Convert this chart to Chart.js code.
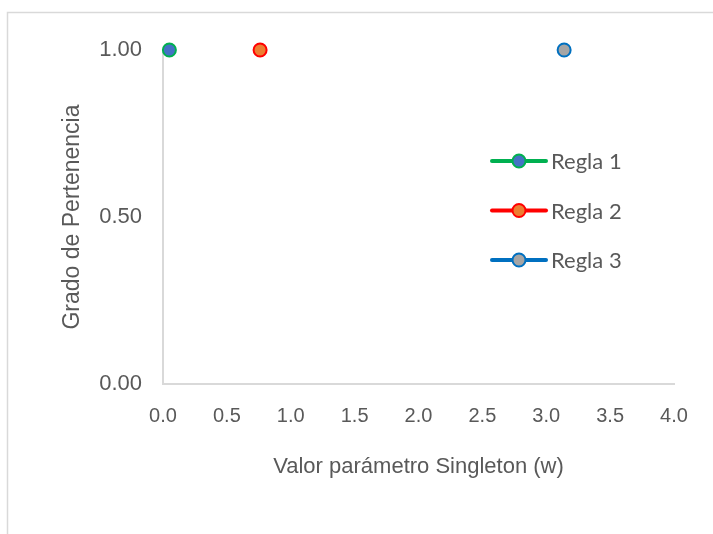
<!DOCTYPE html>
<html>
<head>
<meta charset="utf-8">
<script src="https://cdn.jsdelivr.net/npm/chart.js@4"></script>
<style>
  html, body { margin: 0; padding: 0; background: #ffffff; }
  #wrap { width: 713px; height: 534px; position: relative; }
</style>
</head>
<body>
<div id="wrap"><canvas id="c" width="713" height="534"></canvas></div>
<script>
// Singleton output values, one per rule
const seriesNames = ['Regla 1', 'Regla 2', 'Regla 3'];
const singletonW = [0.05, 0.76, 3.14];
const membership = [1.00, 1.00, 1.00];
const lineColors = ['#00B050', '#FF0000', '#0070C0'];
const markerFills = ['#4472C4', '#ED7D31', '#A5A5A5'];
const xTitle = 'Valor parámetro Singleton (w)';
const yTitle = 'Grado de Pertenencia';

const textGray = '#595959';
const axisGray = '#D9D9D9';

const datasets = seriesNames.map((name, i) => ({
  label: name,
  data: [{ x: singletonW[i], y: membership[i] }],
  borderColor: lineColors[i],
  backgroundColor: markerFills[i],
  pointBackgroundColor: markerFills[i],
  pointBorderColor: lineColors[i],
  pointBorderWidth: 2,
  pointRadius: 6.5,
  pointHoverRadius: 6.5,
  showLine: true,
  borderWidth: 4,
  clip: false
}));

// Frame around the whole chart
const framePlugin = {
  id: 'frame',
  beforeDraw(chart) {
    const ctx = chart.ctx;
    ctx.save();
    ctx.strokeStyle = axisGray;
    ctx.lineWidth = 1.5;
    ctx.strokeRect(7.5, 12.5, chart.width + 20, chart.height + 20);
    ctx.restore();
  }
};

// Legend drawn inside the plot area, line + marker + label per series
const insideLegend = {
  id: 'insideLegend',
  afterDatasetsDraw(chart) {
    const ctx = chart.ctx;
    const ca = chart.chartArea;
    const x0 = ca.left + 329, x1 = ca.left + 383, xm = ca.left + 356;
    const yStart = ca.top + 111, gap = 49.5;
    ctx.save();
    chart.data.datasets.forEach((ds, i) => {
      const y = yStart + i * gap;
      ctx.strokeStyle = ds.borderColor;
      ctx.lineWidth = 4;
      ctx.lineCap = 'round';
      ctx.beginPath();
      ctx.moveTo(x0, y);
      ctx.lineTo(x1, y);
      ctx.stroke();
      ctx.beginPath();
      ctx.arc(xm, y, 6.5, 0, Math.PI * 2);
      ctx.fillStyle = ds.pointBackgroundColor;
      ctx.fill();
      ctx.lineWidth = 2;
      ctx.stroke();
      ctx.fillStyle = textGray;
      ctx.font = '22px Lato';
      ctx.textAlign = 'left';
      ctx.textBaseline = 'middle';
      ctx.fillText(ds.label, x1 + 5, y + 1);
    });
    ctx.restore();
  }
};

new Chart(document.getElementById('c'), {
  type: 'scatter',
  data: { datasets },
  plugins: [framePlugin, insideLegend],
  options: {
    responsive: false,
    animation: false,
    layout: { padding: { left: 40, right: 39, top: 50, bottom: 40 } },
    plugins: {
      legend: { display: false },
      tooltip: { enabled: false }
    },
    scales: {
      x: {
        type: 'linear',
        min: 0,
        max: 4,
        afterFit(scale) { scale.height = 110; },
        grid: { display: false, drawTicks: false },
        border: { display: true, color: axisGray, width: 2 },
        ticks: {
          stepSize: 0.5,
          padding: 20,
          color: textGray,
          font: { family: 'Liberation Sans', size: 20 },
          callback: v => Number(v).toFixed(1)
        },
        title: {
          display: true,
          text: xTitle,
          color: textGray,
          font: { family: 'Liberation Sans', size: 22 },
          padding: { top: 0, bottom: 14 }
        }
      },
      y: {
        type: 'linear',
        min: 0,
        max: 1,
        afterFit(scale) { scale.width = 123; },
        grid: { display: false, drawTicks: false },
        border: { display: true, color: axisGray, width: 2 },
        ticks: {
          stepSize: 0.5,
          padding: 21,
          color: textGray,
          font: { family: 'Liberation Sans', size: 22 },
          callback: v => Number(v).toFixed(2)
        },
        title: {
          display: true,
          text: yTitle,
          color: textGray,
          font: { family: 'Liberation Sans', size: 23 },
          padding: { top: 19, bottom: 0 }
        }
      }
    }
  }
});
</script>
</body>
</html>
